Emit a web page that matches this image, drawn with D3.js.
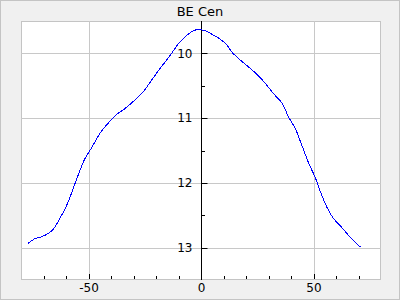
<!DOCTYPE html>
<html>
<head>
<meta charset="utf-8">
<script src="https://cdn.jsdelivr.net/npm/d3@7"></script>
<style>
  body { margin: 0; background: #f0f0f0; }
  svg { display: block; font-family: "DejaVu Sans", sans-serif; }
</style>
</head>
<body>
<div id="chart"></div>
<script>
// light curve
const phase = [-77.0, -73.7, -70.7, -67.8, -65.5, -62.6, -60.4, -58.1, -55.9, -53.7,
    -51.5, -49.2, -47.0, -44.8, -41.8, -38.1, -33.7, -30.0, -25.6, -21.9,
    -18.1, -13.7, -10.0, -6.3, -3.3, -1.1, 0.4, 2.6, 5.6, 8.5,
    11.5, 13.7, 16.7, 21.1, 24.8, 28.5, 32.2, 36.0, 38.9, 41.9,
    44.6, 47.8, 50.8, 53.0, 56.0, 58.9, 62.6, 66.3, 70.8];
const mag = [12.94, 12.86, 12.83, 12.78, 12.71, 12.54, 12.40, 12.21, 12.00, 11.80,
    11.62, 11.49, 11.36, 11.23, 11.10, 10.96, 10.85, 10.74, 10.59, 10.41,
    10.23, 10.03, 9.85, 9.72, 9.65, 9.63, 9.64, 9.66, 9.72, 9.78,
    9.87, 9.98, 10.08, 10.21, 10.32, 10.46, 10.62, 10.77, 10.98, 11.16,
    11.40, 11.69, 11.92, 12.13, 12.38, 12.55, 12.69, 12.84, 12.99];

const xMajor = [-50, 0, 50];
const xMinor = [-70, -60, -40, -30, -20, -10, 10, 20, 30, 40, 60, 70];
const yMajor = [10, 11, 12, 13];
const yMinor = [10.5, 11.5, 12.5];
const title = "BE Cen";

const data = phase.map((p, i) => ({p: p, m: mag[i]}));

const dim = {
    width: 400,
    height: 300,
    margin: {top: 21, left: 21, bottom: 20, right: 19}
};
dim.boundedWidth = dim.width - dim.margin.left - dim.margin.right;
dim.boundedHeight = dim.height - dim.margin.top - dim.margin.bottom;

const svg = d3.select("#chart")
    .append("svg")
    .attr("width", dim.width)
    .attr("height", dim.height);

svg.append("rect")
    .attr("x", 0.5).attr("y", 0.5)
    .attr("width", dim.width - 1).attr("height", dim.height - 1)
    .attr("fill", "#f0f0f0")
    .attr("stroke", "#c4c4c4");

const bounds = svg.append("g")
    .attr("transform", `translate(${dim.margin.left},${dim.margin.top})`);

const x = d3.scaleLinear().domain([-80, 80]).range([0, dim.boundedWidth]);
const y = d3.scaleLinear().domain([9.5, 13.5]).range([0, dim.boundedHeight]);

const px = v => Math.round(x(v)) + 0.5;
const py = v => Math.round(y(v)) + 0.5;

bounds.append("rect")
    .attr("x", 0.5).attr("y", 0.5)
    .attr("width", dim.boundedWidth - 1).attr("height", dim.boundedHeight - 1)
    .attr("fill", "white")
    .attr("stroke", "#c4c4c4");

// grid
bounds.selectAll(".gx").data(xMajor.filter(d => d !== 0)).enter()
    .append("line")
    .attr("x1", d => px(d)).attr("x2", d => px(d))
    .attr("y1", 0).attr("y2", dim.boundedHeight)
    .attr("stroke", "#c8c8c8");

bounds.selectAll(".gy").data(yMajor).enter()
    .append("line")
    .attr("x1", 0).attr("x2", dim.boundedWidth)
    .attr("y1", d => py(d)).attr("y2", d => py(d))
    .attr("stroke", "#c8c8c8");

// y axis sits at phase 0
const x0 = px(0);
bounds.append("line")
    .attr("x1", x0).attr("x2", x0)
    .attr("y1", 0).attr("y2", dim.boundedHeight)
    .attr("stroke", "black");

bounds.selectAll(".ty").data(yMajor.concat(yMinor)).enter()
    .append("line")
    .attr("x1", x0).attr("x2", d => x0 + (Number.isInteger(d) ? 6 : 3.5))
    .attr("y1", d => py(d)).attr("y2", d => py(d))
    .attr("stroke", "black");

bounds.selectAll(".ly").data(yMajor).enter()
    .append("text")
    .attr("x", x0 - 9)
    .attr("y", d => y(d))
    .attr("dy", "0.36em")
    .attr("text-anchor", "end")
    .attr("font-size", "12px")
    .text(d => d);

// x ticks on the bottom edge
const xb = dim.boundedHeight - 1;
bounds.selectAll(".tx").data(xMajor.concat(xMinor)).enter()
    .append("line")
    .attr("x1", d => px(d)).attr("x2", d => px(d))
    .attr("y1", xb).attr("y2", d => xb - (xMajor.includes(d) ? 5 : 3))
    .attr("stroke", "black");

bounds.selectAll(".lx").data(xMajor).enter()
    .append("text")
    .attr("x", d => x(d) + 0.5)
    .attr("y", dim.boundedHeight + 12)
    .attr("text-anchor", "middle")
    .attr("font-size", "12px")
    .text(d => d);

svg.append("text")
    .attr("x", 200)
    .attr("y", 16)
    .attr("text-anchor", "middle")
    .attr("font-size", "13px")
    .text(title);

const line = d3.line()
    .x(d => x(d.p))
    .y(d => y(d.m))
    .curve(d3.curveCatmullRom);

bounds.append("path")
    .datum(data)
    .attr("d", line)
    .attr("fill", "none")
    .attr("stroke", "#0000ff")
    .attr("stroke-width", 1)
    .attr("shape-rendering", "crispEdges");
</script>
</body>
</html>
